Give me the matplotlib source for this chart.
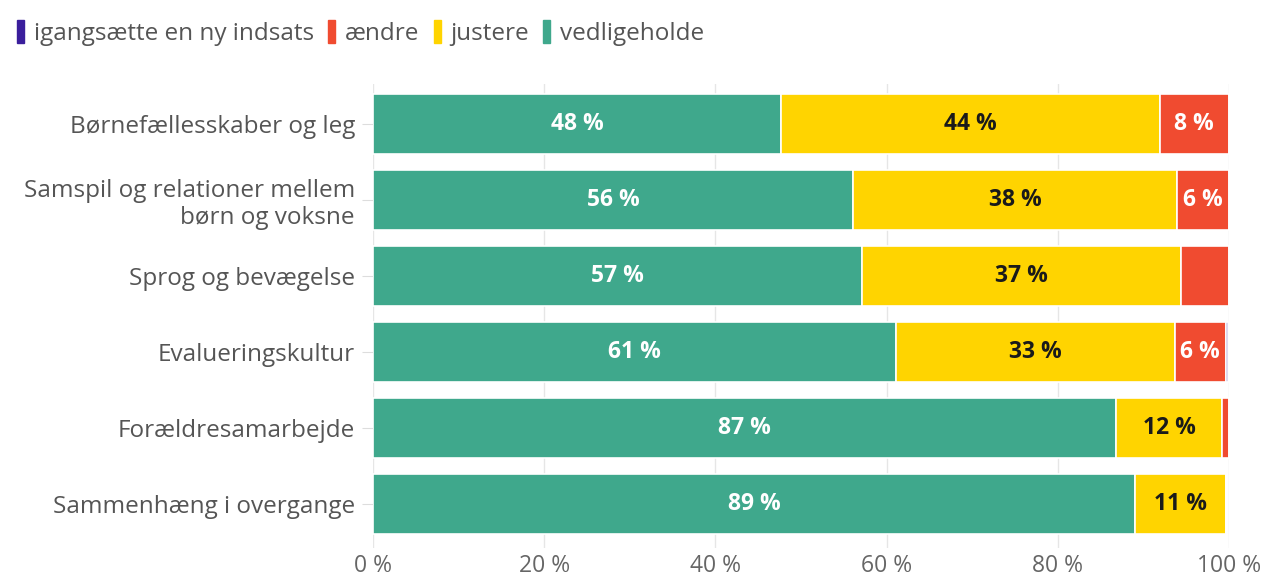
import matplotlib.pyplot as plt
from matplotlib.patches import Patch
import numpy as np

plt.rcParams['font.family'] = ['Open Sans', 'DejaVu Sans']

# Data (share in %)
categories = ['Børnefællesskaber og leg',
              'Samspil og relationer mellem\nbørn og voksne',
              'Sprog og bevægelse',
              'Evalueringskultur',
              'Forældresamarbejde',
              'Sammenhæng i overgange']
vedligeholde = [47.7, 56.1, 57.1, 61.1, 86.8, 89.0]
justere = [44.2, 37.8, 37.3, 32.6, 12.4, 10.7]
aendre = [8.1, 6.1, 5.6, 5.9, 0.8, 0.0]
igangsaette = [0.0, 0.0, 0.0, 0.3, 0.0, 0.0]

series = [('vedligeholde', vedligeholde, '#3fa88c', 'white'),
          ('justere', justere, '#ffd400', '#1a1a1a'),
          ('ændre', aendre, '#f04b30', 'white'),
          ('igangsætte en ny indsats', igangsaette, '#3a1e9c', 'white')]

fig = plt.figure(figsize=(12.69, 5.79), dpi=100)
ax = fig.add_axes([373 / 1269, 1 - 548 / 579, 856 / 1269, (548 - 84) / 579])

y = np.arange(len(categories))
left = np.zeros(len(categories))
for name, vals, color, tcolor in series:
    vals = np.array(vals)
    ax.barh(y, vals, left=left, height=0.79, color=color,
            edgecolor='white', linewidth=1.2, zorder=3)
    for yi, l, v in zip(y, left, vals):
        if v >= 5.8:
            ax.text(l + v / 2, yi, f'{round(v)} %', ha='center', va='center',
                    color=tcolor, fontsize=16.5, fontweight='bold', zorder=4)
    left += vals

ax.set_xlim(0, 100)
ax.set_ylim(5.579, -0.526)
ax.set_yticks(y)
ax.set_yticklabels(categories, fontsize=17.5, color='#555555', linespacing=1.15)
ax.set_xticks(range(0, 101, 20))
ax.set_xticklabels([f'{t} %' for t in range(0, 101, 20)], fontsize=16.5, color='#666666')
ax.tick_params(axis='y', length=8, color='#dddddd', pad=5)
ax.tick_params(axis='x', length=0, pad=4)
ax.grid(axis='x', color='#e6e6e6', linewidth=1, zorder=0)
for s in ax.spines.values():
    s.set_visible(False)

handles = [Patch(color=c, label=n) for n, _, c, _ in reversed(series)]
fig.legend(handles=handles, loc='upper left', bbox_to_anchor=(0.0, 0.995),
           ncol=4, frameon=False, fontsize=17.5, handlelength=0.28, handleheight=1.1,
           handletextpad=0.4, columnspacing=0.6, labelcolor='#555555',
           borderaxespad=0.3)

fig.savefig('out.png', dpi=100, facecolor='white')
